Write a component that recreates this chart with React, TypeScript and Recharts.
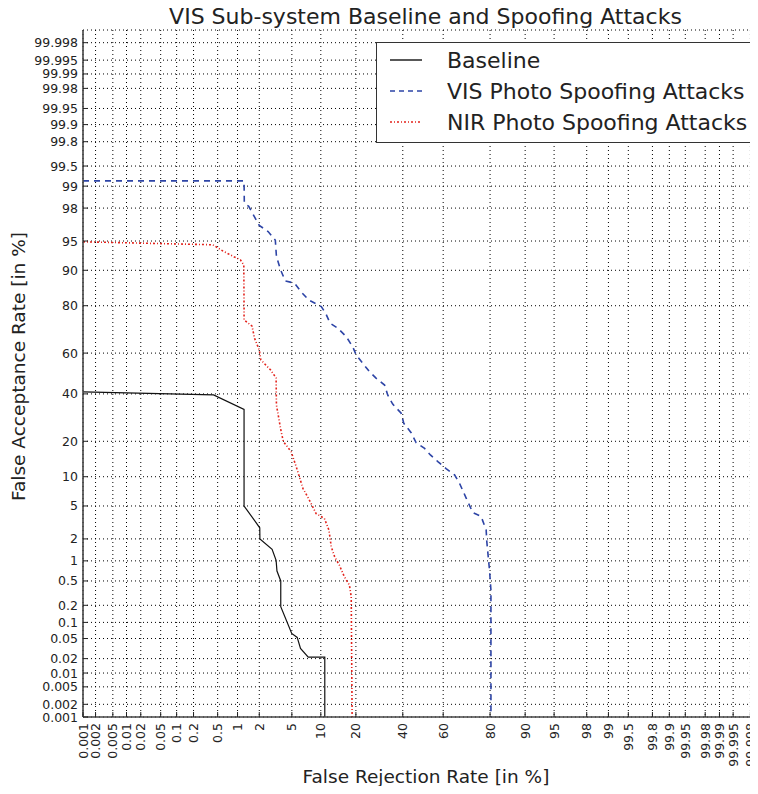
import React from "react";
import { CartesianGrid, Line, LineChart, XAxis, YAxis } from "recharts";

// percent values
const tickLabels = [
  "0.001", "0.002", "0.005", "0.01", "0.02", "0.05", "0.1", "0.2", "0.5", "1", "2", "5",
  "10", "20", "40", "60", "80", "90", "95", "98", "99", "99.5", "99.8", "99.9", "99.95",
  "99.98", "99.99", "99.995", "99.998",
];

const baselineFRR = [0.001, 0.43, 1.24, 1.24, 2.03, 2.04, 2.92, 3.27, 3.35, 3.72, 3.72, 4.98, 5.73, 6.22, 7.5, 10.9, 10.9];
const baselineFAR = [41, 39.5, 32.8, 5.0, 2.77, 1.99, 1.45, 1.02, 0.71, 0.5, 0.19, 0.0625, 0.0525, 0.032, 0.0214, 0.0214, 0.001];

const visFRR = [
  0.001, 1.24, 1.25, 1.44, 2.0, 2.6, 3.2, 3.3, 3.7, 4.2, 5.35, 6.3, 7.6, 10.1, 11.1, 12.2, 14.3,
  16.8, 18.9, 20.1, 25.1, 27.9, 31.5, 32.9, 35.2, 39.2, 40.5, 44.1, 46.6, 50.8, 53.7, 57.4, 61.4,
  65.4, 67.7, 70.6, 73.4, 76.7, 78.6, 78.8, 79.8, 80.3, 80.3,
];
const visFAR = [
  99.16, 99.16, 98.29, 98.1, 96.7, 96.1, 95.1, 92.7, 90.1, 87.5, 86.9, 84.5, 81.9, 79.7, 77.3,
  73.4, 71.3, 67.6, 63, 59.1, 50.9, 47.6, 44.3, 39.5, 35.2, 31.1, 26.8, 23.1, 19.5, 17.6, 15.6,
  13.7, 11.9, 10.4, 8.6, 6.1, 4.2, 3.8, 2.6, 1.9, 0.73, 0.36, 0.001,
];

const nirFRR = [
  0.001, 0.42, 0.6, 0.9, 1.1, 1.23, 1.24, 1.24, 1.6, 1.73, 2.0, 2.1, 2.8, 3.27, 3.3, 3.76, 4.0,
  4.9, 5.6, 6.6, 7.7, 9.0, 10.8, 11.9, 12.5, 13.4, 14.7, 16.2, 17.8, 18.4, 18.7,
];
const nirFAR = [
  94.9, 94.5, 93.6, 92.6, 92.1, 91.1, 79.7, 74.7, 72.2, 66.9, 61.5, 56.7, 51.7, 47.8, 34.8, 23.5,
  19.9, 16.6, 12.3, 7.7, 5.8, 4.1, 3.6, 2.6, 1.57, 1.14, 0.87, 0.58, 0.43, 0.28, 0.001,
];

// inverse normal cdf (Acklam)
function probit(p: number) {
  const a = [-39.69683028665376, 220.9460984245205, -275.9285104469687, 138.357751867269, -30.66479806614716, 2.506628277459239];
  const b = [-54.47609879822406, 161.5858368580409, -155.6989798598866, 66.80131188771972, -13.28068155288572];
  const c = [-0.007784894002430293, -0.3223964580411365, -2.400758277161838, -2.549732539343734, 4.374664141464968, 2.938163982698783];
  const d = [0.007784695709041462, 0.3224671290700398, 2.445134137142996, 3.754408661907416];
  const lo = 0.02425;
  if (p < lo) {
    const q = Math.sqrt(-2 * Math.log(p));
    return (((((c[0] * q + c[1]) * q + c[2]) * q + c[3]) * q + c[4]) * q + c[5]) / ((((d[0] * q + d[1]) * q + d[2]) * q + d[3]) * q + 1);
  }
  if (p > 1 - lo) return -probit(1 - p);
  const q = p - 0.5;
  const r = q * q;
  return ((((((a[0] * r + a[1]) * r + a[2]) * r + a[3]) * r + a[4]) * r + a[5]) * q) / (((((b[0] * r + b[1]) * r + b[2]) * r + b[3]) * r + b[4]) * r + 1);
}

const pz = (v: number) => probit(v / 100);
const toPts = (xs: number[], ys: number[]) => xs.map((x, i) => ({ x: pz(x), y: pz(ys[i]) }));

const baseline = toPts(baselineFRR, baselineFAR);
const vis = toPts(visFRR, visFAR);
const nir = toPts(nirFRR, nirFAR);

const ticks = tickLabels.map((t) => pz(parseFloat(t)));
const lim = -pz(0.001);
const xMax = 4.19;

const FONT = "'DejaVu Sans', sans-serif";
const INK = "#222";
const BLUE = "#2d44a6";
const RED = "#e3231c";
const TICK_FS = 12.5;

const BottomTick = (p: any) => (
  <g>
    <line x1={p.x} y1={p.y} x2={p.x} y2={p.y - 5} stroke={INK} strokeWidth={1} />
    <text x={p.x} y={p.y + 6} transform={`rotate(-90 ${p.x} ${p.y + 6})`} textAnchor="end" dominantBaseline="central" fontSize={TICK_FS} fontFamily={FONT} fill={INK}>
      {tickLabels[p.index]}
    </text>
  </g>
);
const TopTick = (p: any) => <line x1={p.x} y1={p.y} x2={p.x} y2={p.y + 5} stroke={INK} strokeWidth={1} />;
const LeftTick = (p: any) => (
  <g>
    <line x1={p.x} y1={p.y} x2={p.x + 5} y2={p.y} stroke={INK} strokeWidth={1} />
    <text x={p.x - 5} y={p.y} textAnchor="end" dominantBaseline="central" fontSize={TICK_FS} fontFamily={FONT} fill={INK}>
      {tickLabels[p.index]}
    </text>
  </g>
);
const RightTick = (p: any) => <line x1={p.x} y1={p.y} x2={p.x - 5} y2={p.y} stroke={INK} strokeWidth={1} />;

const legendItems = [
  { name: "Baseline", color: "#111", dash: undefined },
  { name: "VIS Photo Spoofing Attacks", color: BLUE, dash: "5 4" },
  { name: "NIR Photo Spoofing Attacks", color: RED, dash: "2 2 1 2" },
];

export default function App() {
  const axisLine = { stroke: "#444", strokeWidth: 1.6 };
  return (
    <div style={{ position: "relative", width: 758, height: 794, margin: -8, fontFamily: FONT, background: "#fff" }}>
      <LineChart width={758} height={794} margin={{ top: 30, right: 1, bottom: 17, left: 8 }}>
        <CartesianGrid stroke="#000" strokeDasharray="1 3" strokeWidth={1} xAxisId="b" yAxisId="l" />
        <XAxis xAxisId="b" type="number" dataKey="x" domain={[-lim, xMax]} allowDataOverflow ticks={ticks} interval={0} height={60} tickSize={0} tickMargin={0} tickLine={false} axisLine={axisLine} tick={<BottomTick />} />
        <XAxis xAxisId="t" orientation="top" type="number" dataKey="x" domain={[-lim, xMax]} allowDataOverflow ticks={ticks} interval={0} height={0} tickSize={0} tickMargin={0} tickLine={false} axisLine={axisLine} tick={<TopTick />} />
        <YAxis yAxisId="l" type="number" dataKey="y" domain={[-lim, lim]} allowDataOverflow ticks={ticks} interval={0} width={75} tickSize={0} tickMargin={0} tickLine={false} axisLine={axisLine} tick={<LeftTick />} />
        <YAxis yAxisId="r" orientation="right" type="number" dataKey="y" domain={[-lim, lim]} allowDataOverflow ticks={ticks} interval={0} width={0} tickSize={0} tickMargin={0} tickLine={false} axisLine={axisLine} tick={<RightTick />} />
        <Line xAxisId="b" yAxisId="l" data={baseline} dataKey="y" type="linear" stroke="#111" strokeWidth={1.2} dot={false} isAnimationActive={false} />
        <Line xAxisId="b" yAxisId="l" data={vis} dataKey="y" type="linear" stroke={BLUE} strokeWidth={1.6} strokeDasharray="6 5" dot={false} isAnimationActive={false} />
        <Line xAxisId="b" yAxisId="l" data={nir} dataKey="y" type="linear" stroke={RED} strokeWidth={1.6} strokeDasharray="2 2 1 2" dot={false} isAnimationActive={false} />
      </LineChart>

      <div style={{ position: "absolute", left: 0, width: 851, top: 4, textAlign: "center", fontSize: 22, color: INK, whiteSpace: "nowrap" }}>
        VIS Sub-system Baseline and Spoofing Attacks
      </div>
      <div style={{ position: "absolute", left: 0, width: 852, top: 766, textAlign: "center", fontSize: 18.5, color: INK, whiteSpace: "nowrap" }}>
        False Rejection Rate [in %]
      </div>
      <div style={{ position: "absolute", left: 18, top: 368, width: 0, height: 0 }}>
        <div style={{ position: "absolute", left: -200, top: -12, width: 400, textAlign: "center", fontSize: 18.5, color: INK, transform: "rotate(-90deg)", whiteSpace: "nowrap" }}>
          False Acceptance Rate [in %]
        </div>
      </div>

      <div style={{ position: "absolute", left: 376, top: 42, width: 375, height: 99, border: "1.5px solid #333", background: "#fff" }}>
        {legendItems.map((it, i) => (
          <div key={it.name} style={{ position: "absolute", left: 12, top: 2 + i * 31, height: 30, display: "flex", alignItems: "center", whiteSpace: "nowrap" }}>
            <svg width={34} height={10}>
              <line x1={1} y1={5} x2={33} y2={5} stroke={it.color} strokeWidth={1.4} strokeDasharray={it.dash} />
            </svg>
            <span style={{ marginLeft: 24, fontSize: 22, color: INK }}>{it.name}</span>
          </div>
        ))}
      </div>
    </div>
  );
}
